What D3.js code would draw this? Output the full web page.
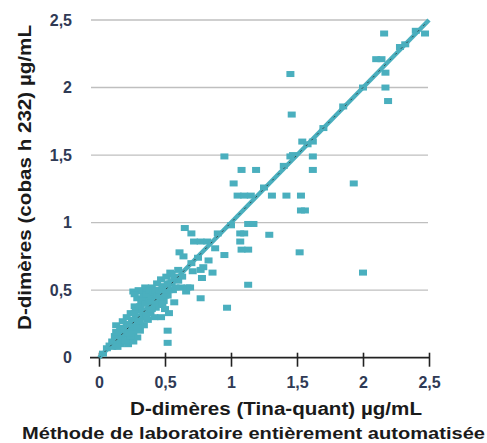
<!DOCTYPE html>
<html>
<head>
<meta charset="utf-8">
<script src="https://cdn.jsdelivr.net/npm/d3@7"></script>
<style>
  html, body { margin: 0; padding: 0; background: #fff; }
  svg { display: block; }
  text { font-family: "Liberation Sans", Arial, sans-serif; }
</style>
</head>
<body>
<svg id="chart" width="487" height="443"></svg>
<script>
// Paired D-dimer results: Tina-quant (x) vs cobas h 232 (y), µg/mL
const tinaQuant = [
  0.03, 0.06, 0.08,
  0.10, 0.12, 0.12, 0.13, 0.14, 0.15, 0.16, 0.17, 0.18, 0.18, 0.19, 0.20, 0.21, 0.21, 0.22, 0.23, 0.23,
  0.24, 0.25, 0.26, 0.26, 0.27, 0.27, 0.28, 0.29, 0.29, 0.30, 0.30, 0.31, 0.32, 0.32, 0.33, 0.34, 0.34,
  0.35, 0.35, 0.36, 0.37, 0.37, 0.38, 0.39, 0.39, 0.40, 0.41, 0.42, 0.42, 0.43, 0.44, 0.45, 0.45, 0.46,
  0.47, 0.47, 0.48, 0.49, 0.50, 0.50, 0.51, 0.52, 0.53, 0.54, 0.55, 0.56, 0.57, 0.58, 0.60, 0.60, 0.62,
  0.63, 0.26, 0.52, 0.52, 0.66, 0.77, 0.54, 0.61, 0.64, 0.65, 0.70, 0.72, 0.77, 0.82, 0.71, 0.77, 0.79,
  0.83, 0.86, 0.78, 0.67, 0.69, 0.88, 0.95, 0.97, 0.70, 0.75, 0.95, 1.08, 1.19, 1.02, 1.05, 1.10, 1.15,
  1.31, 1.42, 1.53, 1.53, 1.56, 1.45, 1.47, 1.62, 1.62, 1.54, 1.62, 1.13, 1.17, 1.07, 1.10, 1.29, 1.07,
  1.08, 1.13, 1.52, 2.00, 1.13, 1.93, 1.45, 1.46, 2.16, 2.47, 2.10, 2.14, 2.17, 2.17, 2.19, 2.28, 1.00,
  1.40, 1.70, 1.85, 2.00, 2.32, 2.40, 0.90, 1.25, 1.58,
  0.15, 0.17, 0.19, 0.20, 0.22, 0.24, 0.25, 0.26, 0.28, 0.28, 0.30, 0.31, 0.31, 0.33, 0.33, 0.35, 0.36,
  0.36, 0.38, 0.38, 0.40, 0.40, 0.41, 0.43, 0.43, 0.44, 0.46, 0.46, 0.48, 0.48, 0.50, 0.51, 0.52, 0.53,
  0.55, 0.57, 0.58, 0.20, 0.24, 0.16, 0.22, 0.27, 0.29, 0.13, 0.14, 0.10, 0.30, 0.27
];
const cobasH232 = [
  0.03, 0.07, 0.09,
  0.12, 0.10, 0.16, 0.24, 0.13, 0.19, 0.10, 0.15, 0.22, 0.27, 0.12, 0.17, 0.24, 0.30, 0.10, 0.14, 0.20,
  0.33, 0.26, 0.17, 0.12, 0.22, 0.38, 0.30, 0.15, 0.44, 0.26, 0.35, 0.20, 0.40, 0.49, 0.30, 0.24, 0.45,
  0.35, 0.52, 0.41, 0.28, 0.49, 0.38, 0.45, 0.33, 0.52, 0.41, 0.30, 0.47, 0.37, 0.55, 0.44, 0.50, 0.39,
  0.58, 0.30, 0.47, 0.42, 0.53, 0.36, 0.60, 0.46, 0.33, 0.55, 0.62, 0.50, 0.41, 0.58, 0.65, 0.57, 0.52,
  0.60, 0.49, 0.20, 0.11, 0.49, 0.44, 0.63, 0.78, 0.75, 0.96, 0.92, 0.86, 0.86, 0.86, 0.64, 0.65, 0.67,
  0.72, 0.63, 0.59, 0.52, 0.52, 0.81, 0.76, 0.37, 0.70, 0.74, 1.49, 1.39, 1.39, 1.29, 1.20, 1.20, 1.20,
  1.20, 1.20, 1.20, 1.09, 1.09, 1.49, 1.50, 1.39, 1.49, 1.60, 1.60, 0.99, 0.99, 0.92, 0.92, 0.91, 0.86,
  0.80, 0.80, 0.78, 0.63, 0.54, 1.29, 2.10, 1.80, 2.40, 2.40, 2.21, 2.21, 2.11, 2.00, 1.90, 2.30, 0.98,
  1.42, 1.70, 1.86, 2.00, 2.32, 2.42, 0.92, 1.26, 1.58,
  0.15, 0.18, 0.20, 0.22, 0.25, 0.23, 0.20, 0.28, 0.26, 0.35, 0.30, 0.38, 0.27, 0.35, 0.42, 0.40, 0.47,
  0.32, 0.42, 0.50, 0.45, 0.36, 0.48, 0.42, 0.50, 0.46, 0.50, 0.45, 0.52, 0.40, 0.46, 0.50, 0.55, 0.50,
  0.56, 0.60, 0.52, 0.13, 0.16, 0.21, 0.18, 0.33, 0.22, 0.19, 0.08, 0.08, 0.50, 0.47
];

// Axis ticks and labels
const tickValues = [0, 0.5, 1, 1.5, 2, 2.5];
const tickLabels = ["0", "0,5", "1", "1,5", "2", "2,5"];
const identityLine = [0, 2.5];

const xTitle = "D-dimères (Tina-quant) µg/mL";
const xSubtitle = "Méthode de laboratoire entièrement automatisée";
const yTitle = "D-dimères (cobas h 232) µg/mL";

const teal = "#4aafbe";
const svg = d3.select("#chart");

const x = d3.scaleLinear().domain([0, 2.5]).range([99, 429]);
const y = d3.scaleLinear().domain([0, 2.5]).range([357.7, 20]);

// Horizontal gridlines
svg.append("g")
  .selectAll("line")
  .data(tickValues.filter(v => v > 0))
  .join("line")
  .attr("x1", x(0) - 8)
  .attr("x2", x(2.5) - 1)
  .attr("y1", d => y(d))
  .attr("y2", d => y(d))
  .attr("stroke", "#bfbfbf")
  .attr("stroke-width", 1.4);

// Y tick labels
svg.append("g")
  .selectAll("text")
  .data(tickValues)
  .join("text")
  .attr("x", 72)
  .attr("y", d => y(d))
  .attr("dy", "0.36em")
  .attr("text-anchor", "end")
  .attr("font-size", 16)
  .attr("font-weight", "bold")
  .attr("fill", "#2f3a55")
  .text((d, i) => tickLabels[i]);

// X axis
const xAxis = d3.axisBottom(x)
  .tickValues(tickValues)
  .tickSizeInner(9)
  .tickSizeOuter(0)
  .tickFormat((d, i) => tickLabels[i]);

const gx = svg.append("g")
  .attr("transform", `translate(0,${y(0)})`)
  .call(xAxis);
gx.select(".domain").remove();
gx.insert("line", ":first-child")
  .attr("x1", x(0) - 9)
  .attr("x2", x(2.5) + 1)
  .attr("stroke", "#222")
  .attr("stroke-width", 1.8);
gx.selectAll(".tick line")
  .attr("y1", -5)
  .attr("stroke", "#222")
  .attr("stroke-width", 1.6);
gx.selectAll(".tick text")
  .attr("y", 30)
  .attr("dy", 0)
  .attr("font-size", 16)
  .attr("font-weight", "bold")
  .attr("font-family", "Liberation Sans, Arial, sans-serif")
  .attr("fill", "#2f3a55");

// Identity line y = x, drawn as a teal band with a dotted dark centre
const lineGen = d3.line().x(d => x(d)).y(d => y(d));
svg.append("path")
  .datum(identityLine)
  .attr("d", lineGen)
  .attr("stroke", teal)
  .attr("stroke-width", 4.5)
  .attr("fill", "none");

// Measurement points
const pts = tinaQuant.map((v, i) => [v, cobasH232[i]]);
const mw = 8, mh = 6;
svg.append("g")
  .selectAll("rect")
  .data(pts)
  .join("rect")
  .attr("x", d => x(d[0]) - mw / 2)
  .attr("y", d => y(d[1]) - mh / 2)
  .attr("width", mw)
  .attr("height", mh)
  .attr("fill", teal);

svg.append("path")
  .datum(identityLine)
  .attr("d", lineGen)
  .attr("stroke", "#2a2a2a")
  .attr("stroke-width", 1)
  .attr("stroke-dasharray", "2,6")
  .attr("stroke-opacity", 0.8)
  .attr("fill", "none");

// Axis titles
svg.append("text")
  .attr("x", 130)
  .attr("y", 415)
  .attr("font-size", 18)
  .attr("font-weight", "bold")
  .attr("fill", "#1a1a1a")
  .attr("textLength", 292)
  .attr("lengthAdjust", "spacingAndGlyphs")
  .text(xTitle);

svg.append("text")
  .attr("x", 22)
  .attr("y", 439)
  .attr("font-size", 17)
  .attr("font-weight", "bold")
  .attr("fill", "#1a1a1a")
  .attr("textLength", 463)
  .attr("lengthAdjust", "spacingAndGlyphs")
  .text(xSubtitle);

svg.append("text")
  .attr("transform", "translate(31,330) rotate(-90)")
  .attr("font-size", 18)
  .attr("font-weight", "bold")
  .attr("fill", "#1a1a1a")
  .attr("textLength", 305)
  .attr("lengthAdjust", "spacingAndGlyphs")
  .text(yTitle);
</script>
</body>
</html>
